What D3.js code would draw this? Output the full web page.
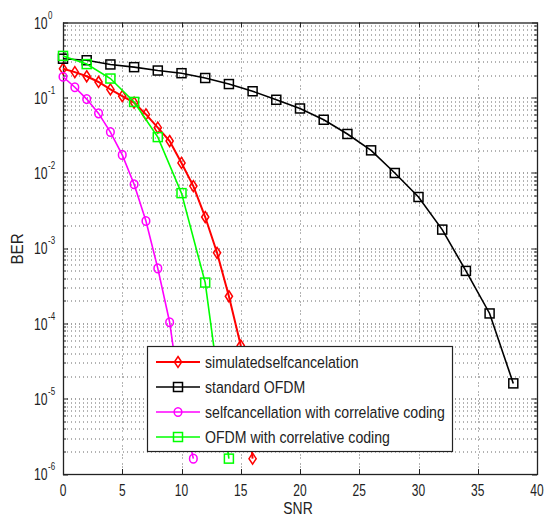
<!DOCTYPE html>
<html>
<head>
<meta charset="utf-8">
<script src="https://cdn.jsdelivr.net/npm/d3@7"></script>
<style>
  body { margin: 0; background: #fff; }
  text { font-family: 'Liberation Sans', Arial, sans-serif; fill: #222; }
</style>
</head>
<body>
<div id="chart"></div>
<script>
// SNR / BER values
const selfCancelSnr = [0, 1, 2, 3, 4, 5, 6, 7, 8, 9, 10, 11, 12, 13, 14, 15, 16];
const selfCancelBer = [0.243, 0.219, 0.193, 0.162, 0.129, 0.105, 0.086, 0.060, 0.040, 0.0266,
  0.0136, 0.0067, 0.0026, 8.7e-4, 2.3e-4, 5.1e-5, 1.6e-6];

const ofdmSnr = [0, 2, 4, 6, 8, 10, 12, 14, 16, 18, 20, 22, 24, 26, 28, 30, 32, 34, 36, 38];
const ofdmBer = [0.33, 0.315, 0.277, 0.255, 0.23, 0.212, 0.183, 0.152, 0.122, 0.094,
  0.072, 0.051, 0.033, 0.020, 0.010, 0.0048, 0.00177, 5.0e-4, 1.36e-4, 1.6e-5];

const corrSelfSnr = [0, 1, 2, 3, 4, 5, 6, 7, 8, 9, 10, 11];
const corrSelfBer = [0.19, 0.138, 0.096, 0.062, 0.035, 0.0174, 0.0071, 0.0023, 5.4e-4, 1.04e-4, 8e-6, 1.6e-6];

const corrOfdmSnr = [0, 2, 4, 6, 8, 10, 12, 14];
const corrOfdmBer = [0.36, 0.28, 0.18, 0.088, 0.030, 0.0054, 3.5e-4, 1.6e-6];

const seriesNames = ["simulatedselfcancelation", "standard OFDM",
  "selfcancellation with correlative coding", "OFDM with correlative coding"];

const xTicks = [0, 5, 10, 15, 20, 25, 30, 35, 40];
const yExponents = [0, -1, -2, -3, -4, -5, -6];

const width = 544, height = 518;
const margin = { top: 22.5, right: 7, bottom: 44, left: 63 };
const innerW = width - margin.left - margin.right;
const innerH = height - margin.top - margin.bottom;

const x = d3.scaleLinear().domain([0, 40]).range([0, innerW]);
const y = d3.scaleLog().domain([1e-6, 1]).range([innerH, 0]);

const svg = d3.select("#chart").append("svg")
  .attr("width", width).attr("height", height);

const g = svg.append("g").attr("transform", `translate(${margin.left},${margin.top})`);

// the original lettering is narrow, so squeeze text horizontally
function label(parent, px, py, str, size, anchor, sx, rot) {
  return parent.append("text")
    .attr("transform", `translate(${px},${py})${rot ? ` rotate(${rot})` : ""} scale(${sx},1)`)
    .attr("text-anchor", anchor).attr("font-size", size).text(str);
}

// minor log values for grid and ticks
const minorVals = [];
yExponents.slice(1).forEach(e => {
  for (let k = 2; k <= 9; k++) minorVals.push(k * Math.pow(10, e));
});
const majorVals = yExponents.map(e => Math.pow(10, e));

// grid
const grid = g.append("g").attr("stroke", "#333").attr("stroke-width", 1)
  .attr("stroke-dasharray", "1,3").attr("fill", "none");
grid.selectAll(".hy").data(minorVals.concat(majorVals.slice(1, -1))).join("line")
  .attr("x1", 0).attr("x2", innerW)
  .attr("y1", d => Math.round(y(d)) + 0.5).attr("y2", d => Math.round(y(d)) + 0.5)
  .attr("stroke-opacity", d => majorVals.includes(d) ? 0.9 : 0.75);
grid.selectAll(".vx").data(xTicks.slice(1, -1)).join("line")
  .attr("x1", d => Math.round(x(d)) + 0.5).attr("x2", d => Math.round(x(d)) + 0.5)
  .attr("y1", 0).attr("y2", innerH)
  .attr("stroke-dasharray", "1,2,1,5")
  .attr("stroke-opacity", 0.75);

// ticks (inward, on all four sides)
const ticks = g.append("g").attr("stroke", "#222").attr("stroke-width", 1);
xTicks.forEach(t => {
  const px = Math.round(x(t)) + 0.5;
  ticks.append("line").attr("x1", px).attr("x2", px).attr("y1", innerH).attr("y2", innerH - 5);
  ticks.append("line").attr("x1", px).attr("x2", px).attr("y1", 0).attr("y2", 5);
});
majorVals.forEach(v => {
  const py = Math.round(y(v)) + 0.5;
  ticks.append("line").attr("x1", 0).attr("x2", 5).attr("y1", py).attr("y2", py);
  ticks.append("line").attr("x1", innerW).attr("x2", innerW - 5).attr("y1", py).attr("y2", py);
});
minorVals.forEach(v => {
  const py = Math.round(y(v)) + 0.5;
  ticks.append("line").attr("x1", 0).attr("x2", 3).attr("y1", py).attr("y2", py);
  ticks.append("line").attr("x1", innerW).attr("x2", innerW - 3).attr("y1", py).attr("y2", py);
});

// box
g.append("rect").attr("x", 0.5).attr("y", 0.5).attr("width", innerW).attr("height", innerH)
  .attr("fill", "none").attr("stroke", "#222").attr("stroke-width", 1.3);

// tick labels
const xl = g.append("g");
xTicks.forEach(t => label(xl, x(t), innerH + 22, t, 16, "middle", 0.75));

const yl = g.append("g");
yExponents.forEach(e => {
  const py = y(Math.pow(10, e));
  label(yl, -15.5, py + 6, "10", 17, "end", 0.72);
  label(yl, -15, py - 4, e, 10, "start", 0.8);
});

// axis titles
label(svg, margin.left + x(20) - 2, 514, "SNR", 16, "middle", 0.87);
label(svg, 23, 249, "BER", 16, "middle", 0.95, -90);

// series
const series = [
  { snr: selfCancelSnr, ber: selfCancelBer, color: "#ff0000", marker: "diamond", lw: 2 },
  { snr: ofdmSnr, ber: ofdmBer, color: "#000000", marker: "square", lw: 1.6 },
  { snr: corrSelfSnr, ber: corrSelfBer, color: "#ff00ff", marker: "circle", lw: 1.6 },
  { snr: corrOfdmSnr, ber: corrOfdmBer, color: "#00ff00", marker: "square", lw: 1.6 }
];

const line = d3.line().x(d => x(d[0])).y(d => y(d[1]));

function drawMarker(sel, type, color) {
  if (type === "square") {
    sel.append("rect").attr("x", -4.5).attr("y", -4.5).attr("width", 9).attr("height", 9)
      .attr("fill", "none").attr("stroke", color).attr("stroke-width", 1.5);
  } else if (type === "diamond") {
    sel.append("path").attr("d", "M0,-5.5L3.6,0L0,5.5L-3.6,0Z")
      .attr("fill", "none").attr("stroke", color).attr("stroke-width", 1.5);
  } else {
    sel.append("ellipse").attr("rx", 3.8).attr("ry", 4.3)
      .attr("fill", "none").attr("stroke", color).attr("stroke-width", 1.5);
  }
}

const plot = g.append("g");
series.forEach(s => {
  const pts = s.snr.map((v, i) => [v, s.ber[i]]);
  const sg = plot.append("g");
  sg.append("path").datum(pts).attr("d", line)
    .attr("fill", "none").attr("stroke", s.color).attr("stroke-width", s.lw);
  sg.selectAll("g.m").data(pts).join("g")
    .attr("transform", d => `translate(${x(d[0])},${y(d[1])})`)
    .each(function () { drawMarker(d3.select(this), s.marker, s.color); });
});

// legend
const lg = svg.append("g").attr("transform", "translate(147,346)");
lg.append("rect").attr("x", 0.5).attr("y", 0.5).attr("width", 305).attr("height", 105)
  .attr("fill", "#fff").attr("stroke", "#222").attr("stroke-width", 1.2);
series.forEach((s, i) => {
  const cy = 16 + i * 25;
  lg.append("line").attr("x1", 9).attr("x2", 53).attr("y1", cy).attr("y2", cy)
    .attr("stroke", s.color).attr("stroke-width", s.lw);
  drawMarker(lg.append("g").attr("transform", `translate(31,${cy})`), s.marker, s.color);
  label(lg, 58, cy + 6, seriesNames[i], 17, "start", 0.83);
});
</script>
</body>
</html>
